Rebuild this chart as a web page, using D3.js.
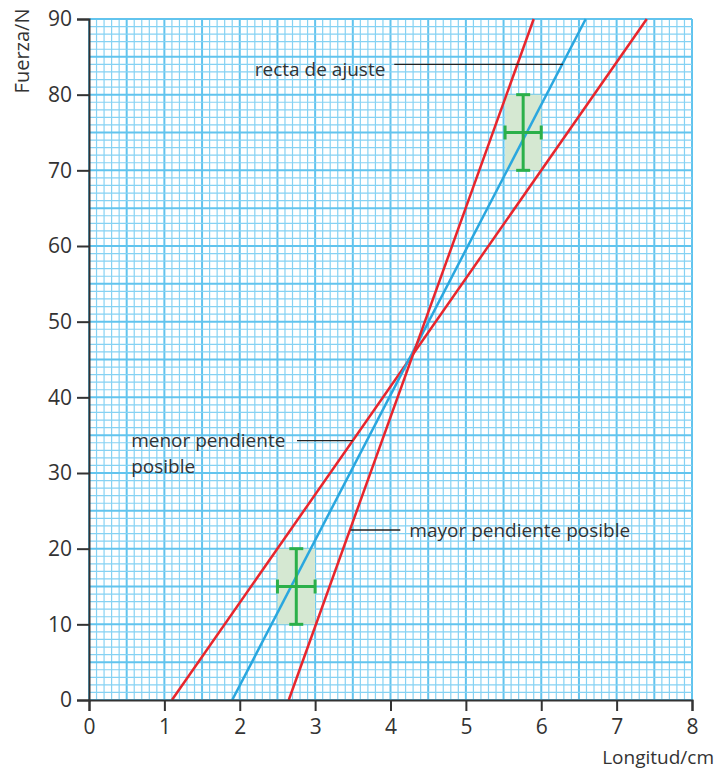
<!DOCTYPE html>
<html>
<head>
<meta charset="utf-8">
<script src="https://cdn.jsdelivr.net/npm/d3@7"></script>
<style>
  body { margin: 0; background: #fff; }
  text { font-family: "Open Sans", "Noto Sans", sans-serif; fill: #333; }
</style>
</head>
<body>
<svg id="chart" width="717" height="771"></svg>
<script>
// x ticks (cm) and y ticks (N)
const xTicks = [0, 1, 2, 3, 4, 5, 6, 7, 8];
const yTicks = [0, 10, 20, 30, 40, 50, 60, 70, 80, 90];

// measured points with uncertainty
const points = [
  { x: 2.75, y: 15, dx: 0.25, dy: 5 },
  { x: 5.76, y: 75, dx: 0.24, dy: 5 },
];

// straight lines given by their ends on F = 0 and F = 90
const lines = [
  { name: 'menor', x0: 1.10, x1: 7.40, color: '#e8262d' },
  { name: 'ajuste', x0: 1.90, x1: 6.59, color: '#2aa7df' },
  { name: 'mayor', x0: 2.65, x1: 5.90, color: '#e8262d' },
];

const margin = { top: 19, right: 25, bottom: 71, left: 89 };
const width = 717 - margin.left - margin.right;
const height = 771 - margin.top - margin.bottom;

const svg = d3.select('#chart');
const g = svg.append('g').attr('transform', `translate(${margin.left},${margin.top})`);

const x = d3.scaleLinear().domain([0, 8]).range([0, width]);
const y = d3.scaleLinear().domain([0, 90]).range([height, 0]);

// graph paper: minor every 0.1 cm / 1 N, major every 0.5 cm / 5 N
const gridX = d3.range(0, 81).map((d) => d / 10);
const gridY = d3.range(0, 91);
const minorColor = '#86d2f3';
const majorColor = '#62c4ee';
const grid = g.append('g');
grid.selectAll('.gx')
  .data(gridX)
  .enter()
  .append('line')
  .attr('x1', (d) => x(d))
  .attr('x2', (d) => x(d))
  .attr('y1', 0)
  .attr('y2', height)
  .attr('stroke', (d, i) => (i % 5 === 0 ? majorColor : minorColor))
  .attr('stroke-width', (d, i) => (i % 5 === 0 ? 2 : 1.2));
grid.selectAll('.gy')
  .data(gridY)
  .enter()
  .append('line')
  .attr('y1', (d) => y(d))
  .attr('y2', (d) => y(d))
  .attr('x1', 0)
  .attr('x2', width)
  .attr('stroke', (d, i) => (i % 5 === 0 ? majorColor : minorColor))
  .attr('stroke-width', (d, i) => (i % 5 === 0 ? 2 : 1.2));

// uncertainty boxes
g.selectAll('.box')
  .data(points)
  .enter()
  .append('rect')
  .attr('x', (d) => x(d.x - d.dx))
  .attr('y', (d) => y(d.y + d.dy))
  .attr('width', (d) => x(d.x + d.dx) - x(d.x - d.dx))
  .attr('height', (d) => y(d.y - d.dy) - y(d.y + d.dy))
  .attr('fill', '#d5e8d2');

// lines
g.selectAll('.fit')
  .data(lines)
  .enter()
  .append('line')
  .attr('x1', (d) => x(d.x0))
  .attr('y1', y(0))
  .attr('x2', (d) => x(d.x1))
  .attr('y2', y(90))
  .attr('stroke', (d) => d.color)
  .attr('stroke-width', 2.5);

// error bars
const eb = g.selectAll('.eb').data(points).enter().append('g')
  .attr('stroke', '#2bb04a')
  .attr('stroke-width', 3);
const cap = 7;
eb.append('line')
  .attr('x1', (d) => x(d.x)).attr('x2', (d) => x(d.x))
  .attr('y1', (d) => y(d.y + d.dy)).attr('y2', (d) => y(d.y - d.dy));
eb.append('line')
  .attr('y1', (d) => y(d.y)).attr('y2', (d) => y(d.y))
  .attr('x1', (d) => x(d.x - d.dx)).attr('x2', (d) => x(d.x + d.dx));
eb.append('line')
  .attr('x1', (d) => x(d.x) - cap).attr('x2', (d) => x(d.x) + cap)
  .attr('y1', (d) => y(d.y + d.dy)).attr('y2', (d) => y(d.y + d.dy));
eb.append('line')
  .attr('x1', (d) => x(d.x) - cap).attr('x2', (d) => x(d.x) + cap)
  .attr('y1', (d) => y(d.y - d.dy)).attr('y2', (d) => y(d.y - d.dy));
eb.append('line')
  .attr('x1', (d) => x(d.x - d.dx)).attr('x2', (d) => x(d.x - d.dx))
  .attr('y1', (d) => y(d.y) - cap).attr('y2', (d) => y(d.y) + cap);
eb.append('line')
  .attr('x1', (d) => x(d.x + d.dx)).attr('x2', (d) => x(d.x + d.dx))
  .attr('y1', (d) => y(d.y) - cap).attr('y2', (d) => y(d.y) + cap);

// axes
const xAxis = g.append('g')
  .attr('transform', `translate(0,${height})`)
  .call(d3.axisBottom(x).tickValues(xTicks).tickSize(11).tickPadding(8));
const yAxis = g.append('g')
  .call(d3.axisLeft(y).tickValues(yTicks).tickSize(12).tickPadding(5));
[xAxis, yAxis].forEach((a) => {
  a.select('.domain').attr('stroke', '#333').attr('stroke-width', 2);
  a.selectAll('.tick line').attr('stroke', '#333').attr('stroke-width', 2);
  a.selectAll('.tick text').style('font-size', '21px').attr('fill', '#333')
    .style('font-family', '"Open Sans", "Noto Sans", sans-serif');
});

svg.append('text')
  .attr('transform', 'translate(29,51) rotate(-90)')
  .attr('text-anchor', 'middle')
  .style('font-size', '20px')
  .text('Fuerza/N');
svg.append('text')
  .attr('x', 714)
  .attr('y', 764)
  .attr('text-anchor', 'end')
  .style('font-size', '19px')
  .text('Longitud/cm');

// annotations
const ann = g.append('g');
function leader(x1, y1, x2, y2) {
  ann.append('line')
    .attr('x1', x1).attr('y1', y1).attr('x2', x2).attr('y2', y2)
    .attr('stroke', '#222').attr('stroke-width', 1.3);
}
function label(tx, ty, str) {
  ann.append('text').attr('x', tx).attr('y', ty).style('font-size', '19px').text(str);
}
label(x(2.2), y(82.5), 'recta de ajuste');
leader(x(4.05), y(84.0), x(6.29), y(84.0));
label(x(0.56), y(33.45), 'menor pendiente');
label(x(0.56), y(30.0), 'posible');
leader(x(2.76), y(34.27), x(3.5), y(34.27));
label(x(4.25), y(21.55), 'mayor pendiente posible');
leader(x(3.47), y(22.47), x(4.13), y(22.47));
</script>
</body>
</html>
